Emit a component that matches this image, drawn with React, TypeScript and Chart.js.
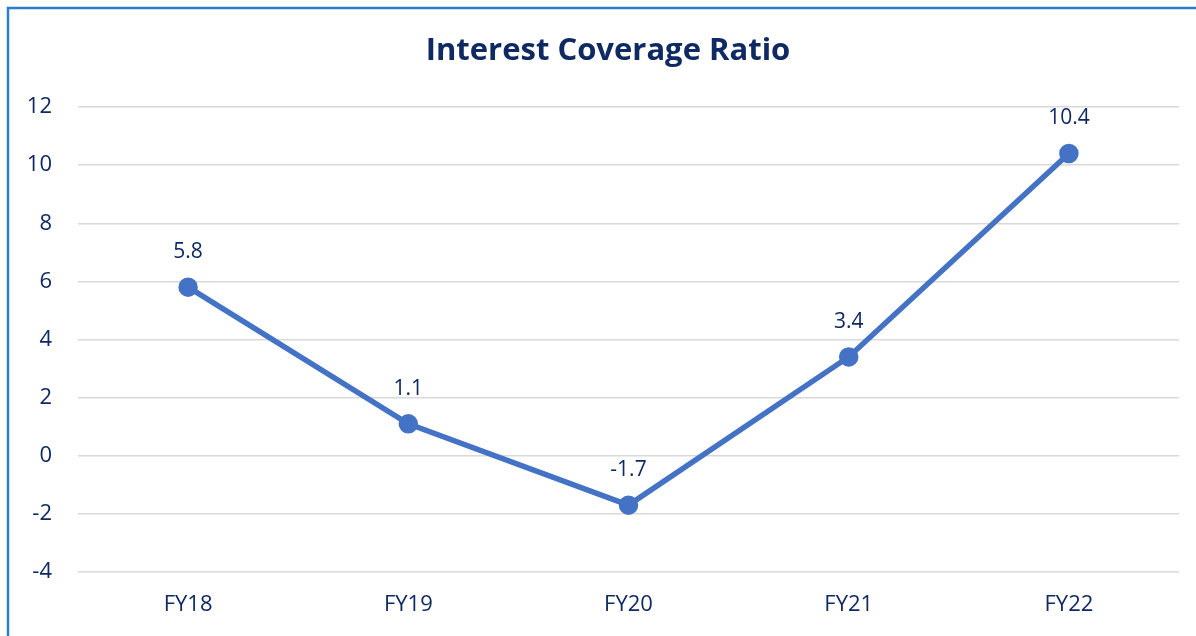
import React, { useEffect, useRef } from "react";
import { Chart, registerables } from "chart.js";

Chart.register(...registerables);

const categories = ["FY18", "FY19", "FY20", "FY21", "FY22"];
const ratioValues = [5.8, 1.1, -1.7, 3.4, 10.4];
const yTicks = [-4, -2, 0, 2, 4, 6, 8, 10, 12];
const titleText = "Interest Coverage Ratio";

const NAVY = "#0F2A63";
const LINE = "#4472C4";
const FONT = "'Open Sans', 'Noto Sans', sans-serif";

const framePlugin = {
  id: "frame",
  beforeDraw(chart: any) {
    const ctx = chart.ctx;
    ctx.save();
    ctx.fillStyle = "#ffffff";
    ctx.fillRect(0, 0, chart.width, chart.height);
    ctx.strokeStyle = "#2A7DCB";
    ctx.lineWidth = 2.5;
    ctx.strokeRect(8, 8, chart.width - 16, chart.height - 16);
    ctx.restore();
  },
};

// Title centred on the outer frame (frame spans 8 .. width-8)
const titlePlugin = {
  id: "frameTitle",
  afterDraw(chart: any) {
    const ctx = chart.ctx;
    ctx.save();
    ctx.fillStyle = NAVY;
    ctx.font = `bold 31px ${FONT}`;
    ctx.textAlign = "center";
    ctx.textBaseline = "middle";
    ctx.fillText(titleText, chart.width / 2, 51);
    ctx.restore();
  },
};

const labelPlugin = {
  id: "pointLabels",
  afterDatasetsDraw(chart: any) {
    const ctx = chart.ctx;
    const meta = chart.getDatasetMeta(0);
    ctx.save();
    ctx.fillStyle = NAVY;
    ctx.font = `21px ${FONT}`;
    ctx.textAlign = "center";
    ctx.textBaseline = "middle";
    meta.data.forEach((pt: any, i: number) => {
      ctx.fillText(String(ratioValues[i]), pt.x, pt.y - 35);
    });
    ctx.restore();
  },
};

export default function App() {
  const ref = useRef<HTMLCanvasElement | null>(null);
  useEffect(() => {
    document.body.style.margin = "0";
    document.body.style.overflow = "hidden";
    const chart = new Chart(ref.current as HTMLCanvasElement, {
      type: "line",
      data: {
        labels: categories,
        datasets: [
          {
            data: ratioValues,
            borderColor: LINE,
            backgroundColor: LINE,
            borderWidth: 5.5,
            pointRadius: 7,
            pointHoverRadius: 7,
            pointBackgroundColor: LINE,
            pointBorderColor: LINE,
            tension: 0,
          },
        ],
      },
      options: {
        responsive: false,
        animation: false,
        layout: { padding: { left: 0, right: 37, top: 107, bottom: 0 } },
        plugins: {
          legend: { display: false },
          tooltip: { enabled: false },
          title: { display: false },
        },
        scales: {
          x: {
            type: "category",
            offset: true,
            grid: { display: false, drawTicks: false },
            border: { display: false },
            ticks: {
              color: NAVY,
              font: { family: FONT, size: 22 },
              padding: 20,
              maxRotation: 0,
            },
            afterFit(scale: any) {
              scale.height = 650 - 572;
            },
          },
          y: {
            min: -4,
            max: 12,
            afterBuildTicks(scale: any) {
              scale.ticks = yTicks.map((v) => ({ value: v }));
            },
            grid: { color: "#D9D9D9", lineWidth: 1.5, drawTicks: false },
            border: { display: false },
            ticks: {
              color: NAVY,
              font: { family: FONT, size: 22 },
              padding: 26,
            },
            afterFit(scale: any) {
              scale.width = 78;
            },
          },
        },
      },
      plugins: [framePlugin, labelPlugin, titlePlugin],
    } as any);
    return () => chart.destroy();
  }, []);
  return (
    <div style={{ width: 1196, height: 636, overflow: "hidden", position: "relative" }}>
      <canvas ref={ref} width={1216} height={650} style={{ display: "block" }} />
    </div>
  );
}
